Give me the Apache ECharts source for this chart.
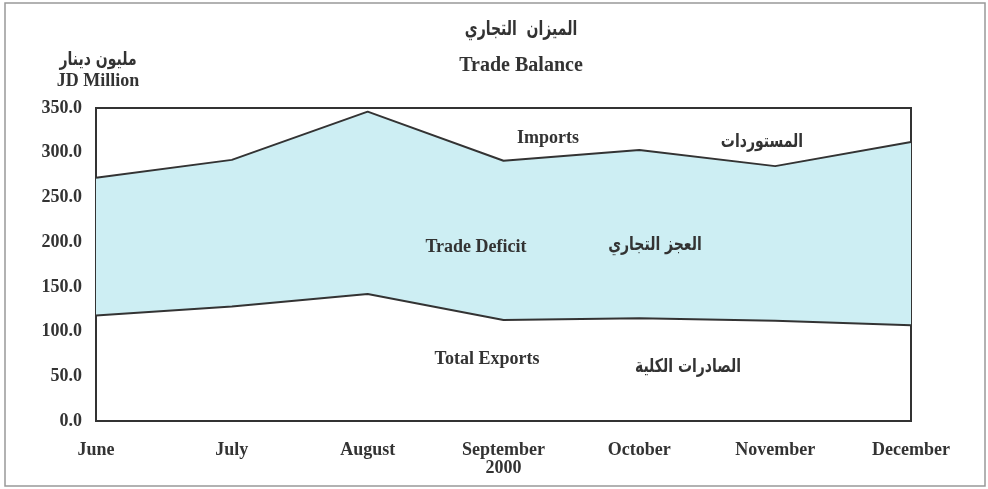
<!DOCTYPE html>
<html>
<head>
<meta charset="utf-8">
<script src="https://cdn.jsdelivr.net/npm/echarts@6/dist/echarts.min.js"></script>
<style>
  html, body { margin: 0; padding: 0; background: #fff; }
  #chart { width: 988px; height: 489px; }
</style>
</head>
<body>
<div id="chart"></div>
<script>
// months of 2000
const months = ['June', 'July', 'August', 'September\n2000', 'October', 'November', 'December']
// JD million
const imports = [272, 292, 346, 291, 303, 285, 312]
const exports = [118, 128, 142, 113, 115, 112, 107]
const yTicks = [0, 350, 50] // min, max, interval

const deficit = imports.map((v, i) => v - exports[i])

const serif = '"Liberation Serif", "DejaVu Serif", serif'
const arabic = '"DejaVu Sans", sans-serif'
const ink = '#333'

// text note; Arabic is stretched a bit taller to look like the printed face
function note (text, x, y, font, size, tall) {
  return {
    type: 'text',
    x: x,
    y: y,
    z: 100,
    scaleY: tall || 1,
    style: {
      text: text,
      font: 'bold ' + size + 'px ' + font,
      fill: ink,
      textAlign: 'center',
      textVerticalAlign: 'middle'
    }
  }
}

const chart = echarts.init(document.getElementById('chart'))
chart.setOption({
  backgroundColor: '#fff',
  animation: false,
  grid: {
    left: 96,
    right: 77,
    top: 108,
    bottom: 68,
    show: true,
    borderColor: ink,
    borderWidth: 2,
    backgroundColor: 'transparent'
  },
  xAxis: {
    type: 'category',
    data: months,
    boundaryGap: false,
    axisLine: { show: false },
    axisTick: { show: false },
    splitLine: { show: false },
    axisLabel: {
      margin: 20,
      color: ink,
      fontFamily: serif,
      fontWeight: 'bold',
      fontSize: 18,
      lineHeight: 18
    }
  },
  yAxis: {
    type: 'value',
    min: yTicks[0],
    max: yTicks[1],
    interval: yTicks[2],
    axisLine: { show: false },
    axisTick: { show: false },
    splitLine: { show: false },
    axisLabel: {
      margin: 14,
      color: ink,
      fontFamily: serif,
      fontWeight: 'bold',
      fontSize: 18,
      formatter: (v) => v.toFixed(1)
    }
  },
  series: [
    {
      name: 'Total Exports',
      type: 'line',
      stack: 'trade',
      data: exports,
      symbol: 'none',
      lineStyle: { color: ink, width: 2 },
      areaStyle: { color: 'rgba(255,255,255,0)' }
    },
    {
      name: 'Trade Deficit',
      type: 'line',
      stack: 'trade',
      data: deficit,
      symbol: 'none',
      lineStyle: { color: ink, width: 2 },
      areaStyle: { color: '#cdeef3', opacity: 1 }
    }
  ],
  graphic: [
    {
      type: 'rect',
      shape: { x: 5, y: 3, width: 980, height: 483 },
      style: { fill: 'none', stroke: '#999', lineWidth: 1.5 },
      z: -10
    },
    note('الميزان  التجاري', 521, 30, arabic, 14, 1.45),
    note('Trade Balance', 521, 66, serif, 20),
    note('مليون دينار', 98, 60, arabic, 14, 1.35),
    note('JD Million', 98, 81, serif, 18),
    note('Imports', 548, 138, serif, 18),
    note('المستوردات', 762, 142, arabic, 14, 1.35),
    note('Trade Deficit', 476, 247, serif, 18),
    note('العجز التجاري', 655, 245, arabic, 14, 1.35),
    note('Total Exports', 487, 359, serif, 18),
    note('الصادرات الكلية', 688, 367, arabic, 14, 1.35)
  ]
})
</script>
</body>
</html>
